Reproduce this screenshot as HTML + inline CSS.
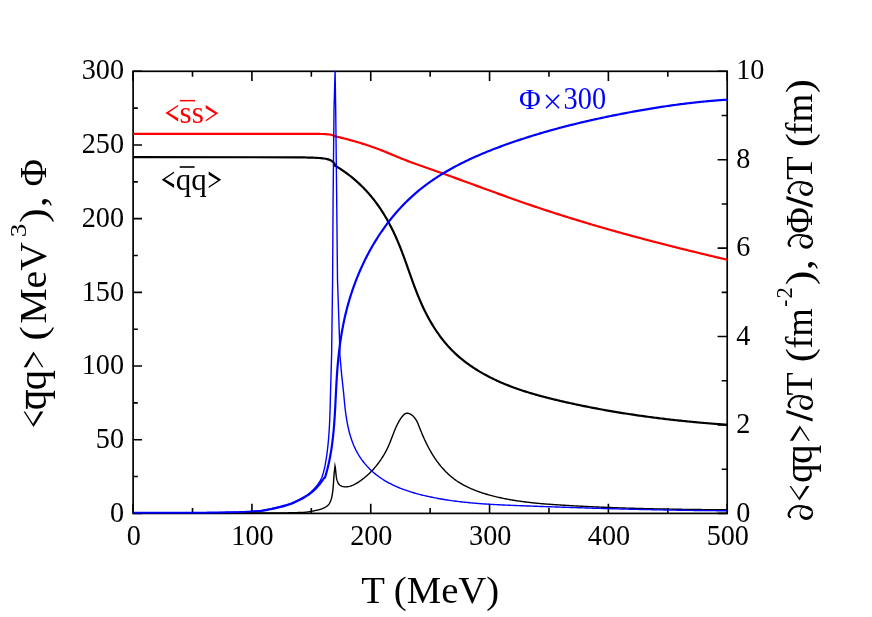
<!DOCTYPE html>
<html>
<head>
<meta charset="utf-8">
<title>Chart</title>
<style>
html,body{margin:0;padding:0;background:#fff;}
body{width:872px;height:617px;overflow:hidden;font-family:"Liberation Serif",serif;}
svg{display:block;will-change:transform;}
text{font-family:"Liberation Serif",serif;}
</style>
</head>
<body>
<svg width="872" height="617" viewBox="0 0 872 617">
<rect x="0" y="0" width="872" height="617" fill="#fff"/>
<defs>
<clipPath id="clip"><rect x="133.10" y="70.8" width="594.10" height="444"/></clipPath>
<g id="pd">
<path d="M2.9 -21.9 C3.6 -23.2 5.6 -23.6 7.4 -22.9 C10.8 -21.6 13.8 -17.8 13.8 -13.0 C13.8 -9.0 12.6 -4.2 10.0 -1.0" fill="none" stroke="#000" stroke-width="2.2" stroke-linecap="round"/>
<path fill-rule="evenodd" d="M0 -5.7 A7.05 6.85 0 1 0 14.1 -5.7 A7.05 6.85 0 1 0 0 -5.7 Z M3.1 -5.9 A4.9 5.6 0 1 0 12.9 -5.9 A4.9 5.6 0 1 0 3.1 -5.9 Z" fill="#000"/>
</g>
<path id="sl" d="M0 0.6 L3.2 0.6 L11.7 -25.6 L8.5 -25.6 Z" fill="#000"/>
</defs>

<!-- frame -->
<rect x="133.10" y="71.30" width="594.10" height="442.10" fill="none" stroke="#000" stroke-width="1.7"/>
<path d="M133.10 513.40 v-9.60 M133.10 71.30 v9.60 M192.51 513.40 v-5.50 M192.51 71.30 v5.50 M251.92 513.40 v-9.60 M251.92 71.30 v9.60 M311.33 513.40 v-5.50 M311.33 71.30 v5.50 M370.74 513.40 v-9.60 M370.74 71.30 v9.60 M430.15 513.40 v-5.50 M430.15 71.30 v5.50 M489.56 513.40 v-9.60 M489.56 71.30 v9.60 M548.97 513.40 v-5.50 M548.97 71.30 v5.50 M608.38 513.40 v-9.60 M608.38 71.30 v9.60 M667.79 513.40 v-5.50 M667.79 71.30 v5.50 M727.20 513.40 v-9.60 M727.20 71.30 v9.60 M133.10 513.40 h8.90 M133.10 476.56 h4.70 M133.10 439.72 h8.90 M133.10 402.88 h4.70 M133.10 366.03 h8.90 M133.10 329.19 h4.70 M133.10 292.35 h8.90 M133.10 255.51 h4.70 M133.10 218.67 h8.90 M133.10 181.83 h4.70 M133.10 144.98 h8.90 M133.10 108.14 h4.70 M133.10 71.30 h8.90 M727.20 513.40 h-9.60 M727.20 469.19 h-5.50 M727.20 424.98 h-9.60 M727.20 380.77 h-5.50 M727.20 336.56 h-9.60 M727.20 292.35 h-5.50 M727.20 248.14 h-9.60 M727.20 203.93 h-5.50 M727.20 159.72 h-9.60 M727.20 115.51 h-5.50 M727.20 71.30 h-9.60" stroke="#000" stroke-width="1.6" fill="none"/>

<!-- curves -->
<g clip-path="url(#clip)" fill="none" stroke-linejoin="round" stroke-linecap="butt">
<path d="M133.20 157.20 L300.00 157.30 L301.60 157.34 L303.21 157.38 L304.81 157.42 L306.42 157.48 L308.02 157.53 L309.63 157.59 L311.23 157.65 L312.84 157.70 L314.44 157.77 L316.05 157.84 L317.65 157.92 L319.25 158.02 L320.86 158.14 L322.46 158.30 L324.07 158.51 L325.67 158.78 L327.28 159.10 L328.88 159.57 L330.49 160.20 L332.09 161.15 L333.70 162.63 L335.30 165.00 L334.72 165.44 L336.05 166.23 L337.37 167.03 L338.68 167.84 L339.97 168.67 L341.26 169.51 L342.53 170.36 L343.80 171.23 L345.05 172.11 L346.28 173.00 L347.51 173.90 L348.72 174.82 L349.93 175.75 L351.12 176.69 L352.30 177.64 L353.46 178.61 L354.62 179.58 L355.76 180.57 L356.89 181.57 L358.01 182.58 L359.11 183.60 L360.21 184.63 L361.29 185.68 L362.36 186.73 L363.41 187.80 L364.46 188.87 L365.49 189.96 L366.51 191.06 L367.51 192.17 L368.51 193.28 L369.49 194.41 L370.46 195.55 L371.42 196.70 L372.36 197.85 L373.29 199.02 L374.21 200.19 L375.12 201.38 L376.02 202.57 L376.90 203.77 L377.77 204.99 L378.63 206.20 L379.48 207.43 L380.32 208.67 L381.15 209.91 L381.96 211.16 L382.77 212.42 L383.56 213.69 L384.34 214.96 L385.12 216.24 L385.88 217.53 L386.63 218.82 L387.37 220.12 L388.10 221.43 L388.82 222.74 L389.53 224.06 L390.23 225.39 L390.92 226.72 L391.60 228.06 L392.27 229.40 L392.93 230.75 L393.59 232.10 L394.23 233.46 L394.86 234.82 L395.49 236.19 L396.10 237.56 L396.71 238.94 L397.31 240.32 L397.90 241.70 L398.48 243.09 L399.05 244.48 L399.62 245.88 L400.18 247.27 L400.73 248.67 L401.28 250.08 L401.82 251.49 L402.35 252.90 L402.88 254.31 L403.41 255.72 L403.93 257.14 L404.45 258.56 L404.96 259.97 L405.48 261.40 L405.99 262.82 L406.49 264.24 L407.00 265.66 L407.50 267.09 L408.01 268.52 L408.51 269.94 L409.01 271.37 L409.52 272.79 L410.02 274.22 L410.53 275.65 L411.03 277.07 L411.54 278.49 L412.05 279.92 L412.57 281.34 L413.08 282.76 L413.60 284.18 L414.13 285.60 L414.66 287.02 L415.19 288.43 L415.73 289.84 L416.27 291.25 L416.82 292.66 L417.38 294.07 L417.94 295.47 L418.51 296.87 L419.09 298.26 L419.68 299.66 L420.27 301.04 L420.87 302.43 L421.48 303.81 L422.11 305.19 L422.74 306.56 L423.38 307.93 L424.03 309.29 L424.69 310.65 L425.36 312.00 L426.04 313.35 L426.73 314.69 L427.43 316.03 L428.14 317.36 L428.86 318.68 L429.59 320.00 L430.33 321.30 L431.09 322.61 L431.85 323.90 L432.63 325.19 L433.42 326.46 L434.21 327.73 L435.02 329.00 L435.85 330.25 L436.68 331.49 L437.52 332.73 L438.38 333.95 L439.25 335.17 L440.13 336.38 L441.02 337.57 L441.93 338.76 L442.85 339.93 L443.78 341.10 L444.72 342.25 L445.68 343.39 L446.64 344.52 L447.63 345.64 L448.62 346.74 L449.63 347.84 L450.65 348.92 L451.69 349.99 L452.74 351.04 L453.80 352.09 L454.87 353.11 L455.96 354.13 L457.06 355.13 L458.18 356.12 L459.30 357.10 L460.44 358.07 L461.59 359.02 L462.76 359.96 L463.93 360.89 L465.11 361.80 L466.31 362.70 L467.51 363.59 L468.73 364.47 L469.95 365.34 L471.19 366.19 L472.44 367.03 L473.69 367.86 L474.95 368.68 L476.22 369.49 L477.50 370.29 L478.79 371.07 L480.09 371.84 L481.39 372.61 L482.70 373.36 L484.02 374.10 L485.34 374.82 L486.67 375.54 L488.01 376.25 L489.36 376.94 L490.70 377.63 L492.06 378.30 L493.42 378.97 L494.78 379.62 L496.15 380.27 L497.53 380.90 L498.90 381.52 L500.29 382.14 L501.67 382.74 L503.06 383.33 L504.45 383.91 L505.85 384.49 L507.25 385.05 L508.65 385.61 L510.06 386.15 L511.46 386.69 L512.87 387.22 L514.29 387.74 L515.71 388.25 L517.12 388.76 L518.55 389.25 L519.97 389.74 L521.40 390.22 L522.83 390.70 L524.26 391.16 L525.69 391.62 L527.13 392.07 L528.57 392.52 L530.01 392.96 L531.45 393.39 L532.90 393.82 L534.34 394.24 L535.79 394.65 L537.24 395.06 L538.69 395.46 L540.15 395.86 L541.60 396.26 L543.06 396.64 L544.51 397.03 L545.97 397.41 L547.43 397.78 L548.89 398.15 L550.35 398.52 L551.82 398.88 L553.28 399.24 L554.75 399.59 L556.21 399.94 L557.68 400.29 L559.14 400.64 L560.61 400.98 L562.08 401.32 L563.54 401.66 L565.01 401.99 L566.48 402.32 L567.95 402.65 L569.42 402.98 L570.89 403.30 L572.36 403.62 L573.83 403.94 L575.30 404.26 L576.77 404.57 L578.24 404.88 L579.72 405.19 L581.19 405.50 L582.66 405.80 L584.13 406.10 L585.61 406.40 L587.08 406.69 L588.56 406.99 L590.03 407.28 L591.51 407.57 L592.98 407.85 L594.46 408.13 L595.94 408.42 L597.41 408.69 L598.89 408.97 L600.37 409.24 L601.85 409.51 L603.33 409.78 L604.80 410.05 L606.28 410.31 L607.76 410.58 L609.24 410.83 L610.72 411.09 L612.21 411.35 L613.69 411.60 L615.17 411.85 L616.65 412.10 L618.13 412.34 L619.62 412.58 L621.10 412.83 L622.58 413.06 L624.07 413.30 L625.55 413.53 L627.03 413.77 L628.52 414.00 L630.00 414.22 L631.49 414.45 L632.98 414.67 L634.46 414.89 L635.95 415.11 L637.44 415.33 L638.92 415.54 L640.41 415.75 L641.90 415.96 L643.39 416.17 L644.88 416.38 L646.36 416.58 L647.85 416.78 L649.34 416.98 L650.83 417.18 L652.32 417.38 L653.81 417.57 L655.31 417.76 L656.80 417.95 L658.29 418.14 L659.78 418.32 L661.27 418.51 L662.76 418.69 L664.26 418.87 L665.75 419.05 L667.24 419.22 L668.74 419.39 L670.23 419.57 L671.73 419.74 L673.22 419.90 L674.72 420.07 L676.21 420.23 L677.71 420.40 L679.20 420.56 L680.70 420.71 L682.20 420.87 L683.69 421.03 L685.19 421.18 L686.69 421.33 L688.18 421.48 L689.68 421.63 L691.18 421.77 L692.68 421.92 L694.18 422.06 L695.68 422.20 L697.18 422.34 L698.68 422.48 L700.18 422.61 L701.68 422.75 L703.18 422.88 L704.68 423.01 L706.18 423.14 L707.68 423.26 L709.18 423.39 L710.68 423.51 L712.18 423.63 L713.69 423.75 L715.19 423.87 L716.69 423.99 L718.19 424.11 L719.70 424.22 L721.20 424.33 L722.70 424.44 L724.21 424.55 L725.71 424.66 L727.22 424.77" stroke="#000" stroke-width="2.2"/>
<path d="M133.20 133.90 L310.00 133.90 L311.61 133.90 L313.23 133.91 L314.84 133.91 L316.45 133.92 L318.07 133.94 L319.68 133.96 L321.29 133.98 L322.91 134.00 L324.52 134.05 L326.13 134.16 L327.75 134.31 L329.36 134.50 L330.97 134.79 L332.59 135.25 L334.20 135.80 L334.12 136.04 L335.59 136.38 L337.06 136.73 L338.53 137.09 L339.99 137.44 L341.46 137.81 L342.92 138.17 L344.38 138.54 L345.84 138.92 L347.30 139.30 L348.76 139.68 L350.21 140.07 L351.66 140.47 L353.12 140.87 L354.57 141.28 L356.01 141.69 L357.46 142.11 L358.90 142.54 L360.34 142.97 L361.78 143.41 L363.22 143.86 L364.65 144.31 L366.08 144.78 L367.51 145.24 L368.94 145.72 L370.36 146.20 L371.78 146.70 L373.20 147.20 L374.62 147.70 L376.03 148.22 L377.44 148.75 L378.85 149.28 L380.25 149.82 L381.65 150.37 L383.05 150.93 L384.44 151.49 L385.84 152.06 L387.23 152.63 L388.62 153.21 L390.01 153.78 L391.40 154.36 L392.79 154.94 L394.18 155.52 L395.57 156.10 L396.96 156.68 L398.35 157.26 L399.75 157.83 L401.14 158.40 L402.54 158.96 L403.93 159.52 L405.33 160.07 L406.74 160.61 L408.14 161.14 L409.55 161.67 L410.96 162.19 L412.38 162.71 L413.79 163.22 L415.21 163.73 L416.63 164.23 L418.04 164.73 L419.46 165.23 L420.88 165.73 L422.31 166.22 L423.73 166.72 L425.15 167.21 L426.57 167.71 L427.99 168.20 L429.41 168.70 L430.83 169.20 L432.25 169.70 L433.67 170.20 L435.09 170.71 L436.50 171.21 L437.92 171.71 L439.34 172.22 L440.76 172.73 L442.17 173.24 L443.59 173.74 L445.01 174.25 L446.42 174.76 L447.84 175.28 L449.26 175.79 L450.67 176.30 L452.09 176.81 L453.50 177.33 L454.92 177.84 L456.33 178.36 L457.75 178.87 L459.16 179.39 L460.58 179.90 L461.99 180.42 L463.41 180.94 L464.82 181.46 L466.23 181.97 L467.65 182.49 L469.06 183.01 L470.48 183.53 L471.89 184.05 L473.30 184.56 L474.72 185.08 L476.13 185.60 L477.55 186.12 L478.96 186.64 L480.38 187.15 L481.79 187.67 L483.20 188.19 L484.62 188.71 L486.03 189.22 L487.45 189.74 L488.86 190.26 L490.28 190.77 L491.69 191.29 L493.11 191.80 L494.52 192.32 L495.94 192.83 L497.36 193.35 L498.77 193.86 L500.19 194.37 L501.60 194.88 L503.02 195.39 L504.44 195.90 L505.86 196.41 L507.27 196.92 L508.69 197.43 L510.11 197.93 L511.53 198.44 L512.95 198.94 L514.37 199.45 L515.79 199.95 L517.21 200.45 L518.63 200.95 L520.05 201.45 L521.47 201.94 L522.89 202.44 L524.31 202.93 L525.74 203.43 L527.16 203.92 L528.58 204.41 L530.01 204.90 L531.43 205.38 L532.86 205.87 L534.28 206.35 L535.71 206.84 L537.13 207.32 L538.56 207.80 L539.99 208.27 L541.42 208.75 L542.85 209.23 L544.28 209.70 L545.70 210.17 L547.13 210.64 L548.57 211.11 L550.00 211.58 L551.43 212.04 L552.86 212.50 L554.29 212.97 L555.73 213.43 L557.16 213.89 L558.59 214.35 L560.03 214.80 L561.46 215.26 L562.90 215.71 L564.33 216.16 L565.77 216.62 L567.21 217.07 L568.64 217.51 L570.08 217.96 L571.52 218.41 L572.96 218.85 L574.40 219.29 L575.84 219.73 L577.28 220.17 L578.72 220.61 L580.16 221.05 L581.60 221.49 L583.04 221.92 L584.48 222.35 L585.92 222.79 L587.37 223.22 L588.81 223.65 L590.25 224.07 L591.70 224.50 L593.14 224.93 L594.58 225.35 L596.03 225.77 L597.47 226.20 L598.92 226.62 L600.37 227.04 L601.81 227.45 L603.26 227.87 L604.71 228.29 L606.15 228.70 L607.60 229.12 L609.05 229.53 L610.50 229.94 L611.95 230.35 L613.40 230.76 L614.85 231.16 L616.30 231.57 L617.75 231.98 L619.20 232.38 L620.65 232.78 L622.10 233.19 L623.55 233.59 L625.00 233.99 L626.45 234.39 L627.91 234.78 L629.36 235.18 L630.81 235.58 L632.27 235.97 L633.72 236.36 L635.17 236.76 L636.63 237.15 L638.08 237.54 L639.54 237.93 L640.99 238.31 L642.45 238.70 L643.90 239.09 L645.36 239.47 L646.81 239.86 L648.27 240.24 L649.73 240.62 L651.18 241.01 L652.64 241.39 L654.10 241.77 L655.56 242.14 L657.01 242.52 L658.47 242.90 L659.93 243.28 L661.39 243.65 L662.85 244.02 L664.31 244.40 L665.77 244.77 L667.23 245.14 L668.69 245.51 L670.15 245.88 L671.61 246.25 L673.07 246.62 L674.53 246.99 L675.99 247.35 L677.45 247.72 L678.91 248.09 L680.37 248.45 L681.83 248.81 L683.29 249.18 L684.76 249.54 L686.22 249.90 L687.68 250.26 L689.14 250.62 L690.61 250.98 L692.07 251.34 L693.53 251.69 L694.99 252.05 L696.46 252.41 L697.92 252.76 L699.38 253.12 L700.85 253.47 L702.31 253.82 L703.78 254.18 L705.24 254.53 L706.70 254.88 L708.17 255.23 L709.63 255.58 L711.10 255.93 L712.56 256.28 L714.03 256.63 L715.49 256.97 L716.96 257.32 L718.42 257.67 L719.89 258.01 L721.35 258.36 L722.82 258.70 L724.28 259.05 L725.75 259.39 L727.22 259.74" stroke="#ff0000" stroke-width="2.2"/>
<path d="M133.10 512.80 L200.00 512.80 L201.54 512.78 L203.07 512.77 L204.61 512.75 L206.14 512.73 L207.68 512.71 L209.21 512.69 L210.75 512.67 L212.29 512.65 L213.82 512.63 L215.36 512.61 L216.89 512.59 L218.43 512.57 L219.97 512.55 L221.50 512.52 L223.04 512.50 L224.57 512.48 L226.11 512.45 L227.64 512.43 L229.18 512.41 L230.72 512.39 L232.25 512.36 L233.79 512.34 L235.32 512.31 L236.86 512.28 L238.40 512.24 L239.93 512.20 L241.47 512.15 L243.00 512.10 L244.54 512.03 L246.07 511.95 L247.61 511.86 L249.15 511.77 L250.68 511.68 L252.22 511.59 L253.75 511.49 L255.29 511.39 L256.82 511.28 L258.36 511.15 L259.90 511.01 L261.43 510.83 L262.97 510.62 L264.50 510.37 L266.04 510.09 L267.58 509.81 L269.11 509.51 L270.65 509.21 L272.18 508.90 L273.72 508.56 L275.25 508.21 L276.79 507.84 L278.33 507.47 L279.86 507.09 L281.40 506.70 L282.93 506.32 L284.47 505.91 L286.00 505.49 L287.54 505.03 L289.08 504.54 L290.61 504.00 L292.15 503.40 L293.68 502.75 L295.22 502.06 L296.76 501.34 L298.29 500.60 L299.83 499.84 L301.36 499.04 L302.90 498.21 L304.43 497.34 L305.97 496.42 L307.51 495.44 L309.04 494.39 L310.58 493.22 L312.11 491.94 L313.65 490.57 L315.19 489.11 L316.72 487.54 L318.26 485.85 L319.79 483.98 L321.33 481.93 L322.86 479.78 L324.40 477.50 L324.98 477.67 L325.42 476.22 L325.85 474.77 L326.26 473.32 L326.66 471.87 L327.05 470.41 L327.43 468.95 L327.79 467.49 L328.14 466.03 L328.48 464.57 L328.81 463.10 L329.13 461.63 L329.43 460.17 L329.73 458.70 L330.01 457.22 L330.29 455.75 L330.55 454.27 L330.81 452.80 L331.05 451.32 L331.29 449.84 L331.52 448.36 L331.73 446.88 L331.94 445.39 L332.15 443.91 L332.34 442.42 L332.53 440.93 L332.70 439.45 L332.88 437.96 L333.04 436.46 L333.20 434.97 L333.35 433.48 L333.49 431.99 L333.63 430.49 L333.77 428.99 L333.90 427.50 L334.02 426.00 L334.14 424.50 L334.25 423.00 L334.36 421.50 L334.46 420.00 L334.57 418.50 L334.66 417.00 L334.76 415.50 L334.85 413.99 L334.94 412.49 L335.02 410.99 L335.10 409.48 L335.19 407.98 L335.27 406.47 L335.34 404.97 L335.42 403.46 L335.49 401.95 L335.57 400.45 L335.64 398.94 L335.72 397.44 L335.79 395.93 L335.86 394.42 L335.94 392.92 L336.01 391.41 L336.09 389.90 L336.17 388.40 L336.25 386.89 L336.33 385.38 L336.41 383.88 L336.49 382.37 L336.58 380.87 L336.67 379.36 L336.76 377.86 L336.86 376.35 L336.96 374.85 L337.06 373.35 L337.17 371.84 L337.28 370.34 L337.40 368.84 L337.52 367.34 L337.64 365.84 L337.77 364.34 L337.91 362.84 L338.05 361.34 L338.19 359.84 L338.34 358.35 L338.49 356.85 L338.65 355.35 L338.81 353.86 L338.98 352.36 L339.16 350.87 L339.34 349.38 L339.52 347.89 L339.71 346.40 L339.91 344.91 L340.11 343.42 L340.32 341.93 L340.54 340.44 L340.76 338.96 L340.99 337.47 L341.22 335.99 L341.46 334.50 L341.71 333.02 L341.97 331.54 L342.23 330.06 L342.50 328.58 L342.78 327.11 L343.06 325.63 L343.35 324.15 L343.65 322.68 L343.96 321.21 L344.27 319.74 L344.59 318.27 L344.92 316.80 L345.26 315.33 L345.61 313.87 L345.96 312.40 L346.33 310.94 L346.70 309.48 L347.08 308.02 L347.47 306.56 L347.86 305.10 L348.27 303.65 L348.68 302.19 L349.10 300.74 L349.53 299.29 L349.97 297.85 L350.42 296.40 L350.88 294.96 L351.34 293.52 L351.82 292.08 L352.30 290.64 L352.79 289.21 L353.29 287.78 L353.79 286.35 L354.31 284.93 L354.83 283.51 L355.36 282.09 L355.90 280.68 L356.45 279.26 L357.01 277.85 L357.57 276.45 L358.15 275.05 L358.73 273.65 L359.32 272.25 L359.92 270.86 L360.53 269.48 L361.14 268.09 L361.77 266.71 L362.40 265.34 L363.04 263.97 L363.69 262.60 L364.35 261.24 L365.01 259.88 L365.69 258.52 L366.37 257.17 L367.06 255.83 L367.76 254.49 L368.47 253.15 L369.18 251.82 L369.91 250.50 L370.64 249.18 L371.38 247.86 L372.13 246.55 L372.89 245.24 L373.65 243.94 L374.43 242.65 L375.21 241.36 L376.00 240.08 L376.80 238.80 L377.60 237.53 L378.42 236.26 L379.24 235.01 L380.07 233.75 L380.91 232.50 L381.76 231.26 L382.62 230.03 L383.48 228.80 L384.35 227.58 L385.24 226.36 L386.12 225.15 L387.02 223.95 L387.93 222.75 L388.84 221.57 L389.76 220.38 L390.69 219.21 L391.63 218.04 L392.58 216.88 L393.53 215.73 L394.49 214.58 L395.47 213.45 L396.44 212.32 L397.43 211.19 L398.43 210.08 L399.43 208.97 L400.44 207.87 L401.46 206.78 L402.49 205.70 L403.52 204.62 L404.57 203.55 L405.62 202.49 L406.68 201.44 L407.75 200.40 L408.83 199.37 L409.91 198.34 L411.00 197.33 L412.10 196.32 L413.21 195.32 L414.33 194.33 L415.45 193.35 L416.59 192.38 L417.73 191.42 L418.88 190.47 L420.03 189.52 L421.20 188.59 L422.37 187.67 L423.55 186.75 L424.74 185.84 L425.93 184.94 L427.14 184.05 L428.35 183.17 L429.56 182.30 L430.79 181.44 L432.02 180.58 L433.25 179.74 L434.50 178.90 L435.75 178.07 L437.00 177.25 L438.27 176.43 L439.53 175.63 L440.81 174.83 L442.09 174.04 L443.38 173.26 L444.67 172.48 L445.96 171.72 L447.27 170.96 L448.58 170.21 L449.89 169.46 L451.21 168.72 L452.53 167.99 L453.86 167.27 L455.19 166.55 L456.53 165.85 L457.87 165.14 L459.22 164.45 L460.57 163.76 L461.92 163.08 L463.28 162.40 L464.64 161.73 L466.01 161.07 L467.38 160.42 L468.75 159.77 L470.13 159.12 L471.51 158.49 L472.89 157.85 L474.28 157.23 L475.67 156.61 L477.06 155.99 L478.45 155.39 L479.85 154.78 L481.25 154.19 L482.65 153.60 L484.06 153.01 L485.47 152.43 L486.87 151.85 L488.29 151.28 L489.70 150.72 L491.11 150.16 L492.53 149.60 L493.95 149.05 L495.36 148.50 L496.78 147.96 L498.20 147.43 L499.63 146.89 L501.05 146.37 L502.47 145.84 L503.90 145.32 L505.32 144.81 L506.75 144.30 L508.17 143.79 L509.60 143.29 L511.02 142.79 L512.45 142.29 L513.87 141.80 L515.30 141.32 L516.73 140.83 L518.15 140.35 L519.58 139.88 L521.00 139.40 L522.43 138.93 L523.86 138.47 L525.29 138.01 L526.71 137.55 L528.14 137.09 L529.57 136.64 L531.00 136.19 L532.43 135.75 L533.86 135.31 L535.29 134.87 L536.72 134.44 L538.16 134.01 L539.59 133.58 L541.02 133.15 L542.46 132.73 L543.89 132.31 L545.33 131.90 L546.76 131.49 L548.20 131.08 L549.64 130.67 L551.07 130.27 L552.51 129.87 L553.95 129.47 L555.39 129.08 L556.84 128.69 L558.28 128.30 L559.72 127.91 L561.17 127.53 L562.61 127.15 L564.06 126.77 L565.51 126.40 L566.96 126.02 L568.41 125.65 L569.86 125.29 L571.31 124.92 L572.77 124.56 L574.22 124.20 L575.68 123.84 L577.13 123.49 L578.59 123.14 L580.05 122.79 L581.51 122.44 L582.97 122.10 L584.43 121.76 L585.90 121.42 L587.36 121.08 L588.82 120.74 L590.29 120.41 L591.76 120.08 L593.22 119.75 L594.69 119.43 L596.16 119.10 L597.63 118.78 L599.10 118.46 L600.57 118.15 L602.04 117.83 L603.52 117.52 L604.99 117.21 L606.46 116.90 L607.94 116.59 L609.41 116.29 L610.89 115.99 L612.37 115.69 L613.84 115.39 L615.32 115.09 L616.80 114.80 L618.28 114.50 L619.76 114.21 L621.24 113.93 L622.72 113.64 L624.20 113.35 L625.68 113.07 L627.17 112.79 L628.65 112.51 L630.13 112.24 L631.61 111.96 L633.10 111.69 L634.58 111.42 L636.07 111.15 L637.55 110.88 L639.04 110.62 L640.53 110.36 L642.01 110.10 L643.50 109.84 L644.99 109.58 L646.47 109.33 L647.96 109.08 L649.45 108.83 L650.94 108.58 L652.43 108.34 L653.92 108.10 L655.41 107.86 L656.90 107.62 L658.39 107.39 L659.88 107.15 L661.37 106.92 L662.86 106.70 L664.35 106.47 L665.85 106.25 L667.34 106.03 L668.83 105.82 L670.32 105.60 L671.82 105.39 L673.31 105.18 L674.80 104.98 L676.30 104.77 L677.79 104.57 L679.29 104.38 L680.78 104.18 L682.28 103.99 L683.77 103.80 L685.27 103.61 L686.76 103.43 L688.26 103.25 L689.75 103.07 L691.25 102.90 L692.74 102.73 L694.24 102.56 L695.74 102.39 L697.23 102.23 L698.73 102.07 L700.22 101.92 L701.72 101.76 L703.22 101.62 L704.71 101.47 L706.21 101.33 L707.71 101.19 L709.20 101.05 L710.70 100.92 L712.20 100.79 L713.69 100.66 L715.19 100.54 L716.69 100.42 L718.19 100.30 L719.68 100.19 L721.18 100.08 L722.68 99.97 L724.17 99.87 L725.67 99.77 L727.17 99.67" stroke="#0000ff" stroke-width="2.2"/>
<path d="M133.20 513.00 L270.00 513.00 L270.50 513.00 L271.01 513.00 L271.51 513.00 L272.02 513.00 L272.52 513.00 L273.02 512.99 L273.53 512.99 L274.03 512.99 L274.53 512.99 L275.04 512.99 L275.54 512.98 L276.05 512.98 L276.55 512.98 L277.05 512.97 L277.56 512.97 L278.06 512.96 L278.57 512.96 L279.07 512.95 L279.57 512.95 L280.08 512.94 L280.58 512.94 L281.09 512.93 L281.59 512.93 L282.09 512.92 L282.60 512.91 L283.10 512.90 L283.60 512.90 L284.11 512.89 L284.61 512.88 L285.12 512.87 L285.62 512.86 L286.12 512.86 L286.63 512.85 L287.13 512.84 L287.64 512.83 L288.14 512.82 L288.64 512.81 L289.15 512.80 L289.65 512.79 L290.16 512.77 L290.66 512.76 L291.16 512.75 L291.67 512.74 L292.17 512.73 L292.67 512.71 L293.18 512.70 L293.68 512.69 L294.19 512.68 L294.69 512.66 L295.19 512.65 L295.70 512.63 L296.20 512.62 L296.71 512.60 L297.21 512.59 L297.71 512.57 L298.22 512.56 L298.72 512.54 L299.22 512.53 L299.73 512.51 L300.23 512.49 L300.74 512.48 L301.24 512.46 L301.74 512.44 L302.25 512.42 L302.75 512.41 L303.26 512.39 L303.76 512.36 L304.26 512.33 L304.77 512.29 L305.27 512.25 L305.78 512.20 L306.28 512.14 L306.78 512.09 L307.29 512.02 L307.79 511.95 L308.29 511.88 L308.80 511.81 L309.30 511.72 L309.81 511.64 L310.31 511.55 L310.81 511.46 L311.32 511.37 L311.82 511.27 L312.33 511.18 L312.83 511.07 L313.33 510.97 L313.84 510.87 L314.34 510.76 L314.84 510.65 L315.35 510.54 L315.85 510.43 L316.36 510.32 L316.86 510.21 L317.36 510.10 L317.87 509.98 L318.37 509.87 L318.88 509.75 L319.38 509.62 L319.88 509.48 L320.39 509.33 L320.89 509.17 L321.40 509.01 L321.90 508.83 L322.40 508.64 L322.91 508.44 L323.41 508.22 L323.91 508.00 L324.42 507.75 L324.92 507.49 L325.43 507.20 L325.93 506.88 L326.43 506.53 L326.94 506.15 L327.44 505.72 L327.95 505.25 L328.45 504.72 L328.95 504.08 L329.46 503.29 L329.96 502.36 L330.47 501.26 L330.97 499.97 L331.47 498.46 L331.98 496.30 L332.48 493.23 L332.98 489.31 L333.49 483.08 L333.99 475.39 L334.50 470.09 L335.00 466.00 L335.00 466.00 L335.20 467.01 L335.37 468.01 L335.51 469.00 L335.62 469.99 L335.72 470.97 L335.81 471.96 L335.89 472.94 L335.98 473.92 L336.08 474.91 L336.20 475.89 L336.34 476.88 L336.51 477.88 L336.71 478.88 L336.97 479.88 L337.27 480.89 L337.63 481.90 L338.06 482.87 L338.57 483.76 L339.18 484.55 L339.89 485.21 L340.68 485.75 L341.55 486.16 L342.48 486.47 L343.44 486.68 L344.43 486.80 L345.44 486.84 L346.43 486.81 L347.42 486.72 L348.40 486.57 L349.38 486.36 L350.34 486.10 L351.29 485.79 L352.23 485.44 L353.16 485.05 L354.08 484.62 L354.99 484.16 L355.89 483.67 L356.77 483.15 L357.65 482.61 L358.51 482.06 L359.36 481.49 L360.19 480.92 L361.02 480.34 L361.83 479.75 L362.62 479.15 L363.41 478.55 L364.18 477.94 L364.95 477.32 L365.70 476.69 L366.44 476.06 L367.18 475.41 L367.90 474.76 L368.62 474.09 L369.33 473.42 L370.03 472.74 L370.72 472.05 L371.41 471.34 L372.09 470.63 L372.77 469.90 L373.44 469.16 L374.11 468.41 L374.76 467.66 L375.41 466.89 L376.06 466.11 L376.69 465.32 L377.32 464.53 L377.94 463.72 L378.56 462.91 L379.16 462.09 L379.76 461.26 L380.35 460.42 L380.93 459.57 L381.50 458.72 L382.06 457.86 L382.61 457.00 L383.15 456.13 L383.68 455.25 L384.20 454.37 L384.71 453.48 L385.21 452.59 L385.70 451.69 L386.18 450.79 L386.65 449.88 L387.10 448.97 L387.55 448.06 L387.98 447.14 L388.40 446.22 L388.80 445.30 L389.20 444.38 L389.59 443.45 L389.97 442.52 L390.34 441.59 L390.70 440.66 L391.06 439.73 L391.42 438.80 L391.77 437.86 L392.12 436.93 L392.48 436.00 L392.83 435.07 L393.18 434.13 L393.54 433.20 L393.90 432.28 L394.27 431.35 L394.64 430.42 L395.03 429.50 L395.42 428.58 L395.82 427.67 L396.23 426.75 L396.65 425.85 L397.09 424.94 L397.54 424.04 L398.01 423.14 L398.49 422.25 L398.99 421.36 L399.51 420.48 L400.05 419.61 L400.62 418.74 L401.20 417.88 L401.81 417.03 L402.45 416.21 L403.11 415.45 L403.80 414.77 L404.53 414.18 L405.29 413.71 L406.08 413.39 L406.92 413.22 L407.79 413.24 L408.69 413.44 L409.59 413.77 L410.46 414.20 L411.29 414.69 L412.06 415.24 L412.79 415.83 L413.47 416.48 L414.10 417.16 L414.70 417.89 L415.26 418.66 L415.79 419.46 L416.29 420.29 L416.76 421.15 L417.21 422.04 L417.64 422.94 L418.06 423.87 L418.46 424.81 L418.84 425.76 L419.23 426.73 L419.60 427.70 L419.98 428.67 L420.36 429.64 L420.75 430.61 L421.14 431.58 L421.53 432.55 L421.93 433.51 L422.33 434.47 L422.74 435.43 L423.15 436.39 L423.57 437.34 L423.99 438.29 L424.42 439.23 L424.86 440.18 L425.30 441.11 L425.74 442.05 L426.19 442.98 L426.65 443.90 L427.11 444.83 L427.58 445.74 L428.05 446.66 L428.53 447.57 L429.02 448.47 L429.51 449.37 L430.01 450.26 L430.51 451.15 L431.02 452.03 L431.54 452.91 L432.06 453.78 L432.59 454.65 L433.13 455.51 L433.67 456.36 L434.22 457.21 L434.77 458.05 L435.33 458.88 L435.90 459.71 L436.48 460.53 L437.06 461.34 L437.65 462.15 L438.25 462.95 L438.86 463.74 L439.47 464.52 L440.09 465.30 L440.72 466.07 L441.35 466.83 L441.99 467.58 L442.64 468.33 L443.30 469.06 L443.97 469.79 L444.64 470.51 L445.32 471.22 L446.01 471.92 L446.71 472.61 L447.41 473.29 L448.13 473.97 L448.85 474.63 L449.58 475.28 L450.32 475.93 L451.06 476.56 L451.82 477.18 L452.59 477.80 L453.36 478.40 L454.14 478.99 L454.93 479.57 L455.73 480.14 L456.54 480.71 L457.36 481.26 L458.18 481.80 L459.01 482.33 L459.85 482.85 L460.70 483.36 L461.55 483.86 L462.41 484.35 L463.28 484.84 L464.15 485.31 L465.04 485.77 L465.92 486.23 L466.82 486.68 L467.71 487.11 L468.62 487.54 L469.53 487.96 L470.44 488.38 L471.37 488.78 L472.29 489.18 L473.22 489.57 L474.16 489.95 L475.09 490.32 L476.04 490.69 L476.98 491.05 L477.94 491.40 L478.89 491.74 L479.85 492.08 L480.81 492.41 L481.77 492.73 L482.74 493.05 L483.71 493.36 L484.68 493.66 L485.65 493.96 L486.63 494.25 L487.61 494.54 L488.59 494.82 L489.57 495.09 L490.55 495.36 L491.53 495.62 L492.52 495.88 L493.50 496.13 L494.49 496.38 L495.47 496.62 L496.46 496.86 L497.44 497.10 L498.43 497.32 L499.41 497.55 L500.40 497.77 L501.39 497.98 L502.37 498.19 L503.36 498.40 L504.35 498.60 L505.33 498.79 L506.32 498.99 L507.31 499.17 L508.29 499.36 L509.28 499.54 L510.27 499.72 L511.26 499.89 L512.25 500.06 L513.23 500.22 L514.22 500.38 L515.21 500.54 L516.20 500.70 L517.19 500.85 L518.18 501.00 L519.17 501.14 L520.16 501.28 L521.15 501.42 L522.14 501.55 L523.13 501.68 L524.12 501.81 L525.11 501.94 L526.10 502.06 L527.09 502.18 L528.08 502.30 L529.07 502.41 L530.06 502.52 L531.05 502.63 L532.04 502.74 L533.03 502.84 L534.03 502.95 L535.02 503.05 L536.01 503.14 L537.00 503.24 L537.99 503.33 L538.99 503.42 L539.98 503.51 L540.97 503.60 L541.97 503.69 L542.96 503.77 L543.95 503.85 L544.95 503.93 L545.94 504.01 L546.94 504.09 L547.93 504.16 L548.92 504.24 L549.92 504.31 L550.91 504.38 L551.91 504.46 L552.90 504.52 L553.90 504.59 L554.90 504.66 L555.89 504.73 L556.89 504.79 L557.88 504.86 L558.88 504.92 L559.88 504.99 L560.87 505.05 L561.87 505.11 L562.87 505.18 L563.86 505.24 L564.86 505.30 L565.86 505.36 L566.86 505.42 L567.86 505.48 L568.85 505.54 L569.85 505.60 L570.85 505.65 L571.85 505.71 L572.85 505.77 L573.85 505.83 L574.85 505.88 L575.85 505.94 L576.85 505.99 L577.85 506.04 L578.84 506.10 L579.84 506.15 L580.84 506.20 L581.85 506.26 L582.85 506.31 L583.85 506.36 L584.85 506.41 L585.85 506.46 L586.85 506.51 L587.85 506.56 L588.85 506.61 L589.85 506.65 L590.85 506.70 L591.85 506.75 L592.86 506.80 L593.86 506.84 L594.86 506.89 L595.86 506.93 L596.86 506.98 L597.87 507.02 L598.87 507.07 L599.87 507.11 L600.87 507.15 L601.88 507.19 L602.88 507.24 L603.88 507.28 L604.88 507.32 L605.89 507.36 L606.89 507.40 L607.89 507.44 L608.90 507.48 L609.90 507.52 L610.90 507.55 L611.91 507.59 L612.91 507.63 L613.91 507.67 L614.92 507.70 L615.92 507.74 L616.92 507.78 L617.93 507.81 L618.93 507.85 L619.93 507.88 L620.94 507.91 L621.94 507.95 L622.95 507.98 L623.95 508.01 L624.95 508.05 L625.96 508.08 L626.96 508.11 L627.97 508.14 L628.97 508.17 L629.98 508.20 L630.98 508.23 L631.98 508.26 L632.99 508.29 L633.99 508.32 L635.00 508.35 L636.00 508.38 L637.01 508.41 L638.01 508.44 L639.02 508.46 L640.02 508.49 L641.02 508.52 L642.03 508.54 L643.03 508.57 L644.04 508.59 L645.04 508.62 L646.05 508.64 L647.05 508.67 L648.06 508.69 L649.06 508.72 L650.06 508.74 L651.07 508.76 L652.07 508.79 L653.08 508.81 L654.08 508.83 L655.09 508.85 L656.09 508.87 L657.09 508.90 L658.10 508.92 L659.10 508.94 L660.11 508.96 L661.11 508.98 L662.12 509.00 L663.12 509.02 L664.12 509.04 L665.13 509.06 L666.13 509.07 L667.14 509.09 L668.14 509.11 L669.14 509.13 L670.15 509.15 L671.15 509.16 L672.15 509.18 L673.16 509.20 L674.16 509.21 L675.16 509.23 L676.17 509.25 L677.17 509.26 L678.17 509.28 L679.18 509.29 L680.18 509.31 L681.18 509.32 L682.19 509.34 L683.19 509.35 L684.19 509.36 L685.19 509.38 L686.20 509.39 L687.20 509.40 L688.20 509.42 L689.20 509.43 L690.20 509.44 L691.21 509.45 L692.21 509.47 L693.21 509.48 L694.21 509.49 L695.21 509.50 L696.21 509.51 L697.22 509.52 L698.22 509.54 L699.22 509.55 L700.22 509.56 L701.22 509.57 L702.22 509.58 L703.22 509.59 L704.22 509.60 L705.22 509.61 L706.22 509.62 L707.22 509.62 L708.22 509.63 L709.22 509.64 L710.22 509.65 L711.22 509.66 L712.22 509.67 L713.22 509.68 L714.21 509.68 L715.21 509.69 L716.21 509.70 L717.21 509.71 L718.21 509.72 L719.21 509.72 L720.20 509.73 L721.20 509.74 L722.20 509.74 L723.20 509.75 L724.19 509.76 L725.19 509.76 L726.19 509.77 L727.18 509.78" stroke="#000" stroke-width="1.4" stroke-linejoin="miter" stroke-miterlimit="12"/>
<path d="M133.10 512.80 L200.00 512.80 L201.52 512.79 L203.05 512.78 L204.57 512.76 L206.09 512.75 L207.62 512.73 L209.14 512.71 L210.66 512.69 L212.19 512.67 L213.71 512.65 L215.23 512.63 L216.75 512.60 L218.28 512.58 L219.80 512.55 L221.32 512.53 L222.85 512.50 L224.37 512.48 L225.89 512.45 L227.42 512.42 L228.94 512.39 L230.46 512.36 L231.99 512.33 L233.51 512.29 L235.03 512.25 L236.56 512.21 L238.08 512.16 L239.60 512.11 L241.13 512.06 L242.65 511.99 L244.17 511.91 L245.70 511.82 L247.22 511.73 L248.74 511.63 L250.26 511.52 L251.79 511.42 L253.31 511.31 L254.83 511.19 L256.36 511.06 L257.88 510.92 L259.40 510.77 L260.93 510.58 L262.45 510.36 L263.97 510.11 L265.50 509.83 L267.02 509.54 L268.54 509.23 L270.07 508.93 L271.59 508.60 L273.11 508.26 L274.64 507.90 L276.16 507.53 L277.68 507.14 L279.20 506.75 L280.73 506.36 L282.25 505.96 L283.77 505.55 L285.30 505.13 L286.82 504.68 L288.34 504.19 L289.87 503.66 L291.39 503.08 L292.91 502.44 L294.44 501.77 L295.96 501.05 L297.48 500.31 L299.01 499.55 L300.53 498.77 L302.05 497.96 L303.58 497.12 L305.10 496.22 L306.62 495.26 L308.15 494.23 L309.67 493.08 L311.19 491.75 L312.71 490.29 L314.24 488.72 L315.76 487.01 L317.28 485.10 L318.81 483.00 L320.33 480.64 L321.85 477.53 L323.38 472.69 L324.90 466.30 L325.19 464.78 L325.46 463.25 L325.73 461.73 L325.98 460.20 L326.23 458.68 L326.46 457.15 L326.69 455.62 L326.90 454.09 L327.11 452.55 L327.30 451.02 L327.49 449.48 L327.67 447.95 L327.84 446.41 L328.00 444.87 L328.16 443.33 L328.30 441.79 L328.44 440.25 L328.57 438.71 L328.70 437.17 L328.82 435.63 L328.93 434.09 L329.04 432.54 L329.14 431.00 L329.23 429.45 L329.32 427.91 L329.41 426.36 L329.49 424.82 L329.56 423.27 L329.64 421.72 L329.70 420.18 L329.77 418.63 L329.83 417.08 L329.89 415.54 L329.94 413.99 L329.99 412.44 L330.04 410.89 L330.09 409.35 L330.13 407.80 L330.18 406.26 L330.22 404.71 L330.26 403.16 L330.30 401.62 L330.34 400.07 L330.38 398.53 L330.42 396.99 L330.46 395.44 L330.50 393.90 L331.60 355.00 L332.60 280.00 L333.10 200.00 L334.00 110.00 L335.10 70.50 L335.70 110.00 L336.70 200.00 L337.50 280.00 L339.40 335.70 L339.90 355.00 L341.60 374.40 L343.71 393.94 L343.84 395.37 L343.97 396.82 L344.10 398.28 L344.23 399.74 L344.37 401.21 L344.51 402.69 L344.66 404.18 L344.81 405.67 L344.97 407.16 L345.14 408.66 L345.32 410.17 L345.51 411.67 L345.70 413.18 L345.91 414.69 L346.13 416.20 L346.36 417.72 L346.60 419.23 L346.86 420.74 L347.13 422.25 L347.41 423.75 L347.71 425.26 L348.02 426.76 L348.35 428.26 L348.70 429.75 L349.07 431.23 L349.45 432.71 L349.86 434.19 L350.28 435.65 L350.72 437.11 L351.19 438.56 L351.68 440.00 L352.19 441.43 L352.72 442.85 L353.28 444.26 L353.86 445.66 L354.47 447.04 L355.10 448.41 L355.76 449.77 L356.45 451.11 L357.17 452.44 L357.91 453.75 L358.68 455.05 L359.48 456.32 L360.31 457.59 L361.16 458.83 L362.03 460.06 L362.93 461.26 L363.86 462.45 L364.81 463.62 L365.78 464.76 L366.77 465.89 L367.78 466.99 L368.82 468.08 L369.87 469.14 L370.95 470.17 L372.04 471.19 L373.15 472.18 L374.28 473.14 L375.43 474.09 L376.59 475.00 L377.77 475.90 L378.96 476.78 L380.18 477.63 L381.40 478.46 L382.64 479.27 L383.90 480.06 L385.17 480.83 L386.45 481.58 L387.75 482.31 L389.06 483.03 L390.38 483.72 L391.71 484.39 L393.06 485.05 L394.42 485.69 L395.78 486.31 L397.16 486.91 L398.55 487.50 L399.94 488.07 L401.35 488.63 L402.76 489.17 L404.18 489.69 L405.61 490.20 L407.04 490.70 L408.49 491.18 L409.94 491.65 L411.39 492.10 L412.85 492.54 L414.32 492.97 L415.79 493.39 L417.26 493.80 L418.74 494.19 L420.22 494.57 L421.71 494.95 L423.19 495.31 L424.68 495.66 L426.17 496.00 L427.67 496.34 L429.16 496.66 L430.65 496.98 L432.15 497.29 L433.64 497.59 L435.13 497.88 L436.63 498.16 L438.12 498.44 L439.62 498.71 L441.11 498.97 L442.61 499.23 L444.10 499.47 L445.60 499.71 L447.09 499.95 L448.59 500.18 L450.08 500.40 L451.58 500.61 L453.07 500.82 L454.57 501.02 L456.07 501.21 L457.56 501.40 L459.06 501.59 L460.56 501.77 L462.05 501.94 L463.55 502.10 L465.05 502.27 L466.55 502.42 L468.04 502.57 L469.54 502.72 L471.04 502.86 L472.54 503.00 L474.03 503.13 L475.53 503.26 L477.03 503.38 L478.53 503.50 L480.03 503.62 L481.53 503.73 L483.03 503.84 L484.53 503.94 L486.03 504.04 L487.53 504.14 L489.03 504.24 L490.53 504.33 L492.03 504.42 L493.53 504.50 L495.03 504.59 L496.53 504.67 L498.03 504.74 L499.53 504.82 L501.03 504.89 L502.53 504.96 L504.04 505.03 L505.54 505.10 L507.04 505.17 L508.54 505.23 L510.05 505.30 L511.55 505.36 L513.05 505.42 L514.56 505.48 L516.06 505.54 L517.56 505.60 L519.07 505.65 L520.57 505.71 L522.07 505.77 L523.58 505.82 L525.08 505.88 L526.59 505.94 L528.09 505.99 L529.60 506.05 L531.10 506.10 L532.61 506.16 L534.11 506.21 L535.62 506.27 L537.13 506.32 L538.63 506.38 L540.14 506.43 L541.65 506.49 L543.15 506.54 L544.66 506.59 L546.17 506.65 L547.67 506.70 L549.18 506.75 L550.69 506.81 L552.20 506.86 L553.70 506.91 L555.21 506.96 L556.72 507.01 L558.23 507.07 L559.74 507.12 L561.24 507.17 L562.75 507.22 L564.26 507.27 L565.77 507.32 L567.28 507.37 L568.79 507.42 L570.30 507.47 L571.81 507.52 L573.31 507.57 L574.82 507.62 L576.33 507.67 L577.84 507.72 L579.35 507.76 L580.86 507.81 L582.37 507.86 L583.88 507.91 L585.39 507.95 L586.90 508.00 L588.41 508.05 L589.92 508.09 L591.43 508.14 L592.94 508.18 L594.45 508.23 L595.96 508.27 L597.47 508.32 L598.98 508.36 L600.49 508.41 L602.00 508.45 L603.51 508.49 L605.02 508.54 L606.53 508.58 L608.04 508.62 L609.56 508.66 L611.07 508.71 L612.58 508.75 L614.09 508.79 L615.60 508.83 L617.11 508.87 L618.62 508.91 L620.13 508.95 L621.64 508.99 L623.15 509.03 L624.66 509.07 L626.17 509.10 L627.68 509.14 L629.19 509.18 L630.70 509.22 L632.21 509.25 L633.72 509.29 L635.23 509.33 L636.74 509.36 L638.25 509.40 L639.77 509.43 L641.28 509.47 L642.79 509.50 L644.30 509.54 L645.81 509.57 L647.32 509.60 L648.83 509.64 L650.34 509.67 L651.85 509.70 L653.35 509.73 L654.86 509.76 L656.37 509.80 L657.88 509.83 L659.39 509.86 L660.90 509.89 L662.41 509.91 L663.92 509.94 L665.43 509.97 L666.94 510.00 L668.45 510.03 L669.96 510.05 L671.46 510.08 L672.97 510.11 L674.48 510.13 L675.99 510.16 L677.50 510.18 L679.01 510.21 L680.51 510.23 L682.02 510.26 L683.53 510.28 L685.04 510.30 L686.54 510.33 L688.05 510.35 L689.56 510.37 L691.06 510.39 L692.57 510.41 L694.08 510.43 L695.58 510.45 L697.09 510.47 L698.60 510.49 L700.10 510.51 L701.61 510.52 L703.11 510.54 L704.62 510.56 L706.12 510.58 L707.63 510.59 L709.13 510.61 L710.64 510.62 L712.14 510.64 L713.65 510.65 L715.15 510.66 L716.65 510.68 L718.16 510.69 L719.66 510.70 L721.16 510.71 L722.67 510.72 L724.17 510.73 L725.67 510.74 L727.18 510.75" stroke="#0000ff" stroke-width="1.4" stroke-linejoin="miter"/>
</g>

<!-- tick labels -->
<g font-size="28.2" fill="#000">
<text transform="translate(133.7,545.3) scale(1,1.062)" text-anchor="middle">0</text>
<text transform="translate(252.5,545.3) scale(1,1.062)" text-anchor="middle">100</text>
<text transform="translate(371.3,545.3) scale(1,1.062)" text-anchor="middle">200</text>
<text transform="translate(490.2,545.3) scale(1,1.062)" text-anchor="middle">300</text>
<text transform="translate(609.0,545.3) scale(1,1.062)" text-anchor="middle">400</text>
<text transform="translate(727.8,545.3) scale(1,1.062)" text-anchor="middle">500</text>
<text transform="translate(124.0,521.5) scale(1,1.062)" text-anchor="end">0</text>
<text transform="translate(124.0,447.9) scale(1,1.062)" text-anchor="end">50</text>
<text transform="translate(124.0,374.2) scale(1,1.062)" text-anchor="end">100</text>
<text transform="translate(124.0,300.5) scale(1,1.062)" text-anchor="end">150</text>
<text transform="translate(124.0,226.8) scale(1,1.062)" text-anchor="end">200</text>
<text transform="translate(124.0,153.1) scale(1,1.062)" text-anchor="end">250</text>
<text transform="translate(124.0,79.4) scale(1,1.062)" text-anchor="end">300</text>
<text transform="translate(736.2,521.5) scale(1,1.062)">0</text>
<text transform="translate(736.2,433.1) scale(1,1.062)">2</text>
<text transform="translate(736.2,344.7) scale(1,1.062)">4</text>
<text transform="translate(736.2,256.3) scale(1,1.062)">6</text>
<text transform="translate(736.2,167.9) scale(1,1.062)">8</text>
<text transform="translate(736.2,79.4) scale(1,1.062)">10</text>
</g>

<!-- in-plot labels -->
<g fill="#ff0000">
<text transform="translate(179.54,123.10) scale(1.0069,1.0000)" font-size="31.00">ss</text>
<path d="M178.20 104.70 L165.50 113.10 L178.20 121.50 L178.20 118.20 L168.77 112.65 L178.20 106.20 Z"/>
<path d="M205.70 104.90 L218.20 113.20 L205.70 121.50 L205.70 120.00 L214.95 113.65 L205.70 108.20 Z"/>
<rect x="179.9" y="99.9" width="15.1" height="1.5"/>
</g>
<g fill="#000">
<text transform="translate(175.78,189.50) scale(0.9996,1.0000)" font-size="31.00">qq</text>
<path d="M174.10 171.50 L161.70 179.70 L174.10 187.90 L174.10 184.60 L164.97 179.25 L174.10 173.00 Z"/>
<path d="M208.70 171.50 L221.20 179.70 L208.70 187.90 L208.70 186.40 L217.91 180.15 L208.70 174.80 Z"/>
<rect x="179.7" y="166.2" width="14.9" height="1.6"/>
</g>
<g fill="#0000ff">
<text transform="translate(519.07,109.00) scale(1.0613,1.0700)" font-size="28.00">Φ</text>
<text transform="translate(563.57,109.10) scale(1.0120,1.1150)" font-size="28.00">300</text>
<path d="M546.0 94.9 L559.1 108.2 M559.1 94.9 L546.0 108.2" stroke="#0000ff" stroke-width="1.5" fill="none"/>
</g>
<!-- axis titles -->
<g fill="#000">
<text transform="translate(361.21,603.10) scale(1.0036,1.0000)" font-size="38.60">T (MeV)</text>
<text transform="translate(46.30,410.29) rotate(-90) scale(1.0332,1)" font-size="39.00">qq</text>
<rect x="25.9" y="390.1" width="1.9" height="18.7"/>
<path d="M23.60 411.60 L33.50 427.10 L43.40 411.60 L40.10 411.60 L33.05 423.72 L25.10 411.60 Z"/>
<path d="M23.60 367.20 L33.50 351.40 L43.40 367.20 L41.90 367.20 L33.95 354.85 L26.90 367.20 Z"/>
<text transform="translate(46.30,340.65) rotate(-90) scale(1.1500,1)" font-size="38.60">(</text>
<text transform="translate(46.30,323.76) rotate(-90) scale(1.0307,1)" font-size="38.60">MeV</text>
<text transform="translate(25.70,237.15) rotate(-90) scale(1.1500,1)" font-size="23.60">3</text>
<text transform="translate(46.30,223.00) rotate(-90) scale(1.1500,1)" font-size="38.60">)</text>
<text transform="translate(46.30,207.33) rotate(-90) scale(1.1500,1)" font-size="38.60">,</text>
<text transform="translate(46.30,186.46) rotate(-90) scale(0.9739,1)" font-size="38.60">Φ</text>
<use href="#pd" transform="translate(812.00,520.00) rotate(-90)"/>
<path d="M789.50 486.10 L799.50 500.60 L809.50 486.10 L806.20 486.10 L799.05 497.47 L791.00 486.10 Z"/>
<path d="M789.80 440.70 L799.80 425.50 L809.80 440.70 L808.30 440.70 L800.25 428.78 L793.10 440.70 Z"/>
<text transform="translate(812.30,482.70) rotate(-90) scale(0.9763,1)" font-size="39.00">qq</text>
<rect x="793.0" y="452.6" width="1.6" height="18.6"/>
<use href="#sl" transform="translate(812.00,421.60) rotate(-90)"/>
<use href="#pd" transform="translate(812.00,410.00) rotate(-90)"/>
<text transform="translate(812.00,395.38) rotate(-90) scale(0.9843,1)" font-size="38.60">T</text>
<text transform="translate(812.00,362.25) rotate(-90) scale(1.0969,1)" font-size="38.60">(</text>
<text transform="translate(812.00,348.51) rotate(-90) scale(0.9386,1)" font-size="38.60">fm</text>
<text transform="translate(792.00,306.64) rotate(-90) scale(0.9000,1)" font-size="23.60">-</text>
<text transform="translate(792.00,298.41) rotate(-90) scale(0.9536,1)" font-size="23.60">2</text>
<text transform="translate(812.00,285.22) rotate(-90) scale(1.1371,1)" font-size="38.60">)</text>
<text transform="translate(812.00,270.13) rotate(-90) scale(1.1500,1)" font-size="38.60">,</text>
<use href="#pd" transform="translate(812.00,248.80) rotate(-90)"/>
<text transform="translate(812.00,233.61) rotate(-90) scale(0.9314,1)" font-size="38.60">Φ</text>
<use href="#sl" transform="translate(812.00,207.70) rotate(-90)"/>
<use href="#pd" transform="translate(812.00,196.00) rotate(-90)"/>
<text transform="translate(812.00,180.09) rotate(-90) scale(1.0067,1)" font-size="38.60">T</text>
<text transform="translate(812.00,147.27) rotate(-90) scale(1.1069,1)" font-size="38.60">(</text>
<text transform="translate(812.00,134.84) rotate(-90) scale(0.9581,1)" font-size="38.60">fm</text>
<text transform="translate(812.00,93.28) rotate(-90) scale(1.1069,1)" font-size="38.60">)</text>
</g>
</svg>
</body>
</html>
